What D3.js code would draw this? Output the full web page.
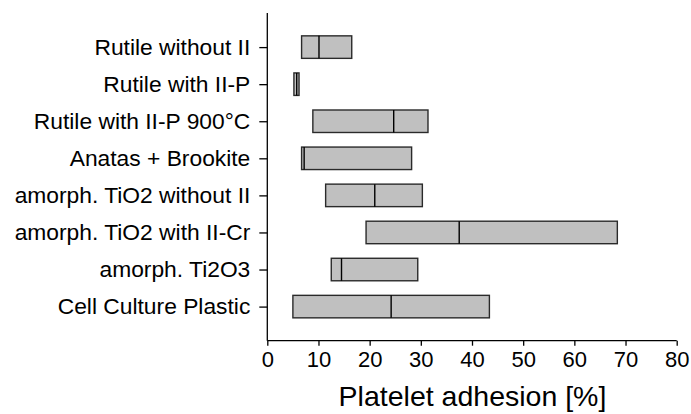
<!DOCTYPE html>
<html>
<head>
<meta charset="utf-8">
<script src="https://cdn.jsdelivr.net/npm/d3@7"></script>
<style>
  html, body { margin: 0; padding: 0; background: #fff; }
  svg { display: block; font-family: "Liberation Sans", Arial, sans-serif; }
</style>
</head>
<body>
<svg id="chart" width="691" height="414"></svg>
<script>
const categories = [
  "Rutile without II",
  "Rutile with II-P",
  "Rutile with II-P 900°C",
  "Anatas + Brookite",
  "amorph. TiO2 without II",
  "amorph. TiO2 with II-Cr",
  "amorph. Ti2O3",
  "Cell Culture Plastic"
];
const lowValues    = [6.7, 5.2, 8.9, 6.7, 11.4, 19.3, 12.5, 5.0];
const medianValues = [10.1, 5.75, 24.7, 7.2, 21.0, 37.5, 14.5, 24.2];
const highValues   = [16.5, 6.2, 31.4, 28.2, 30.3, 68.4, 29.4, 43.4];
const xTicks = [0, 10, 20, 30, 40, 50, 60, 70, 80];
const xTitle = "Platelet adhesion [%]";

(function () {
const svg = d3.select("#chart");
const mLeft = 267.3, mRight = 676.7, mTop = 13, mBottom = 340.7;

const x = d3.scaleLinear().domain([0, 80]).range([mLeft, mRight]);
const y = d3.scalePoint().domain(categories).range([mTop, mBottom]).padding(0.92);
const barH = 22.5;

const rows = categories.map((c, i) => ({c, lo: lowValues[i], md: medianValues[i], hi: highValues[i]}));
const g = svg.append("g");
g.selectAll("rect.bar").data(rows).join("rect")
  .attr("class", "bar")
  .attr("x", d => x(d.lo))
  .attr("y", d => y(d.c) - barH / 2)
  .attr("width", d => x(d.hi) - x(d.lo))
  .attr("height", barH)
  .attr("fill", "#c0c0c0")
  .attr("stroke", "#2a2a2a")
  .attr("stroke-width", 1.4);
g.selectAll("line.med").data(rows).join("line")
  .attr("class", "med")
  .attr("x1", d => x(d.md)).attr("x2", d => x(d.md))
  .attr("y1", d => y(d.c) - barH / 2).attr("y2", d => y(d.c) + barH / 2)
  .attr("stroke", "#000")
  .attr("stroke-width", 1.4);

const xAxis = svg.append("g")
  .attr("transform", `translate(0,${mBottom})`)
  .call(d3.axisBottom(x).tickValues(xTicks).tickSize(5).tickPadding(6).tickFormat(d3.format("d")));
xAxis.select(".domain").attr("d", `M${mLeft},0H${mRight}`).attr("stroke", "#000").attr("stroke-width", 1.3);
xAxis.selectAll(".tick line").attr("stroke", "#000").attr("stroke-width", 1.3);
xAxis.selectAll(".tick text").attr("font-size", 22).attr("fill", "#000")
  .attr("font-family", "Liberation Sans, Arial, sans-serif");

const yAxis = svg.append("g")
  .attr("transform", `translate(${mLeft},0)`)
  .call(d3.axisLeft(y).tickSize(8).tickPadding(9));
yAxis.select(".domain").attr("d", `M0,${mTop}V${mBottom}`).attr("stroke", "#000").attr("stroke-width", 1.3);
yAxis.selectAll(".tick line").attr("stroke", "#000").attr("stroke-width", 1.3);
yAxis.selectAll(".tick text").attr("font-size", 22.8).attr("fill", "#000")
  .attr("font-family", "Liberation Sans, Arial, sans-serif");

svg.append("text")
  .attr("x", (mLeft + mRight) / 2 + 0.5)
  .attr("y", 406)
  .attr("text-anchor", "middle")
  .attr("font-size", 28.5)
  .attr("fill", "#000")
  .text(xTitle);
})();
</script>
</body>
</html>
